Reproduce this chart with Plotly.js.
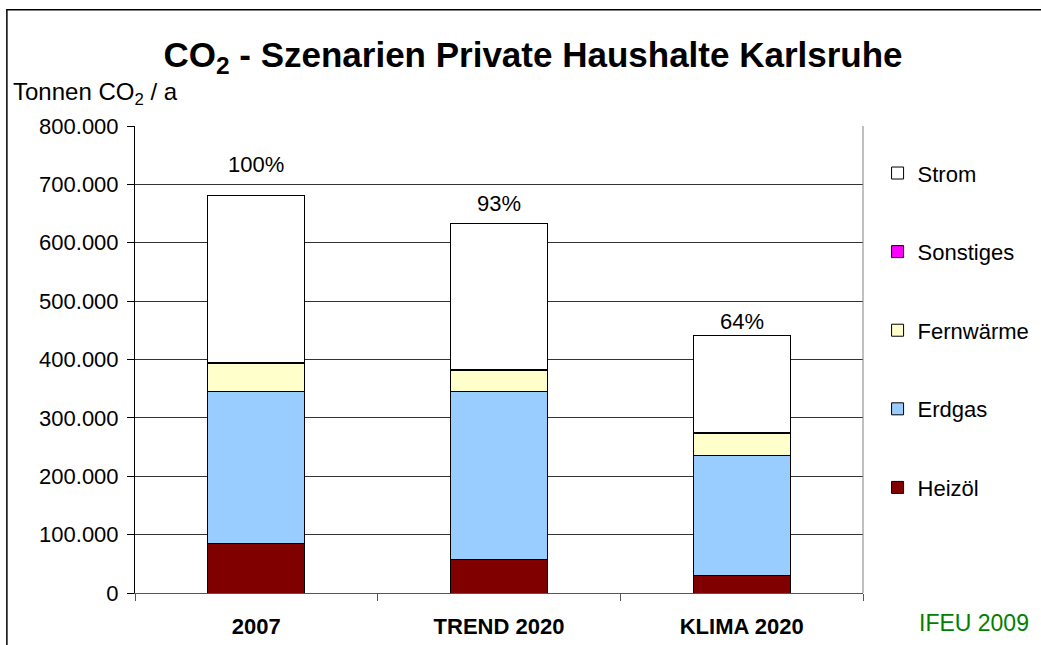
<!DOCTYPE html>
<html>
<head>
<meta charset="utf-8">
<script src="https://cdn.plot.ly/plotly-3.0.1.min.js"></script>
<style>
  html, body { margin: 0; padding: 0; background: #fff; }
  #chart { width: 1041px; height: 645px; }
</style>
</head>
<body>
<div id="chart"></div>
<script>
const categories = ['2007', 'TREND 2020', 'KLIMA 2020']
const heizoel = [84000, 57000, 30000]
const erdgas = [262000, 288000, 205000]
const fernwaerme = [47000, 36000, 39000]
const sonstiges = [1500, 1500, 1500]
const strom = [286000, 251000, 165000]
const percentLabels = ['100%', '93%', '64%']

const fontFamily = '"Liberation Sans", Arial, sans-serif'
const colorOutline = '#000000'
// the percent labels do not sit at one fixed distance above the bars
const labelShifts = [31, 20, 14]

const series = [
  { name: 'Heizöl', values: heizoel, color: '#800000' },
  { name: 'Erdgas', values: erdgas, color: '#99CCFF' },
  { name: 'Fernwärme', values: fernwaerme, color: '#FFFFCC' },
  { name: 'Sonstiges', values: sonstiges, color: '#FF00FF' },
  { name: 'Strom', values: strom, color: '#FFFFFF' }
]

const data = series.map((s, i) => ({
  x: categories,
  y: s.values,
  type: 'bar',
  name: s.name,
  legendgroup: s.name,
  legendrank: series.length - i,
  width: 0.4,
  marker: { color: s.color, line: { color: colorOutline, width: 1 } },
  hoverinfo: 'skip'
}))

const totals = categories.map((_, i) => series.reduce((sum, s) => sum + s.values[i], 0))

// on a category axis annotations take the category index
const annotations = categories.map((c, i) => ({
  x: i,
  y: totals[i],
  xref: 'x',
  yref: 'y',
  text: percentLabels[i],
  showarrow: false,
  yanchor: 'middle',
  yshift: labelShifts[i],
  font: { family: fontFamily, size: 22, color: '#000' }
}))

annotations.push({
  xref: 'paper', yref: 'paper',
  x: -0.17, y: 1.07,
  xanchor: 'left', yanchor: 'middle',
  text: 'Tonnen CO<sub>2</sub> / a',
  showarrow: false,
  font: { family: fontFamily, size: 24, color: '#000' }
})

annotations.push({
  xref: 'paper', yref: 'paper',
  x: 1.153, y: -0.065,
  xanchor: 'center', yanchor: 'middle',
  text: 'IFEU 2009',
  showarrow: false,
  font: { family: fontFamily, size: 23, color: '#008000' }
})

const layout = {
  width: 1041,
  height: 645,
  margin: { l: 135, r: 178, t: 126, b: 52, pad: 0 },
  paper_bgcolor: '#ffffff',
  plot_bgcolor: '#ffffff',
  separators: ',.',
  font: { family: fontFamily, size: 22, color: '#000' },
  title: {
    text: '<b>CO<sub>2</sub> - Szenarien Private Haushalte Karlsruhe</b>',
    x: 0.512,
    xanchor: 'center',
    y: 0.915,
    yanchor: 'middle',
    font: { family: fontFamily, size: 35, color: '#000' }
  },
  barmode: 'stack',
  xaxis: {
    type: 'category',
    showgrid: false,
    showline: true,
    linecolor: '#555555',
    linewidth: 1,
    ticks: 'outside',
    tickson: 'boundaries',
    ticklen: 7,
    tickcolor: '#555555',
    ticklabelstandoff: 14,
    tickangle: 0,
    tickfont: { family: fontFamily, size: 22, color: '#000', weight: 'bold' },
    fixedrange: true
  },
  yaxis: {
    range: [0, 800000],
    dtick: 100000,
    tickformat: ',d',
    showgrid: true,
    gridcolor: '#333333',
    gridwidth: 1,
    showline: true,
    linecolor: '#000000',
    ticks: 'outside',
    ticklen: 7,
    tickcolor: '#000000',
    ticklabelstandoff: 4,
    zeroline: false,
    tickfont: { family: fontFamily, size: 22, color: '#000' },
    fixedrange: true
  },
  showlegend: true,
  legend: {
    xref: 'container',
    yref: 'container',
    x: 0.843,
    xanchor: 'left',
    y: 0.764,
    yanchor: 'top',
    traceorder: 'grouped',
    tracegroupgap: 47,
    maxheight: 600,
    font: { family: fontFamily, size: 22, color: '#000' },
    bgcolor: 'rgba(0,0,0,0)',
    itemwidth: 30
  },
  annotations: annotations,
  shapes: [
    {
      type: 'line', xref: 'paper', yref: 'paper',
      x0: 1, x1: 1, y0: 0, y1: 1,
      line: { color: '#808080', width: 1 }
    },
    {
      type: 'rect', xref: 'paper', yref: 'paper',
      x0: -0.176, x1: 1.26, y0: -0.2, y1: 1.2487,
      line: { color: '#000000', width: 1.5 },
      fillcolor: 'rgba(0,0,0,0)'
    }
  ]
}

Plotly.newPlot('chart', data, layout, { displayModeBar: false, staticPlot: true })
</script>
</body>
</html>
